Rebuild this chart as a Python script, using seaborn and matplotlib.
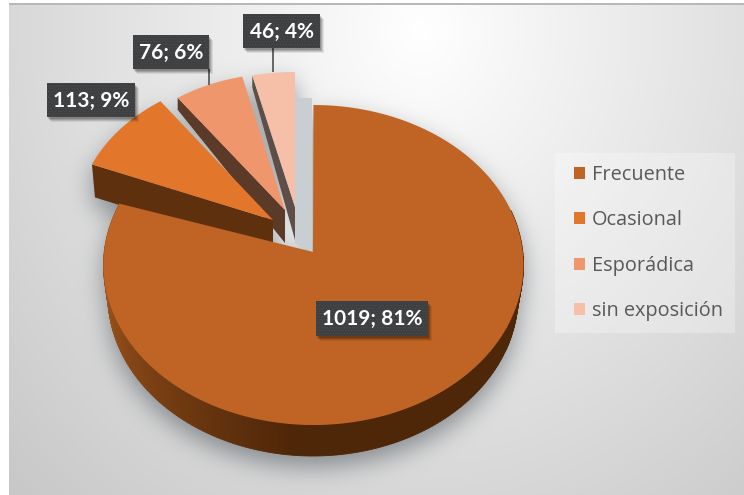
import numpy as np
import matplotlib
matplotlib.use("Agg")
import matplotlib.pyplot as plt
from matplotlib.colors import to_rgb
from matplotlib.patches import Polygon, Rectangle, Patch
from matplotlib.path import Path
import seaborn as sns

categories = ["Frecuente", "Ocasional", "Esporádica", "sin exposición"]
counts = [1019, 113, 76, 46]
top_colors = ["#BF6424", "#E2762B", "#F0966C", "#F5BFA8"]
face_colors = ["#4E2608", "#5F300E", "#5C3A28", "#5D4E48"]
label_boxes = [(316, 301, 112, 35), (47, 83, 88, 34), (133, 35, 76, 34), (243, 14, 77, 34)]

# Per-slice layout: pivot point of the wedge and radii of its top surface
slice_layout = [
    dict(apex=(313, 252), centre=(313.5, 265), rx=210, ry=160),
    dict(apex=(273, 220), centre=(273, 220), rx=196, ry=145),
    dict(apex=(285, 210), centre=(285, 210), rx=187, ry=137),
    dict(apex=(295, 207), centre=(295, 207), rx=187, ry=135),
]

sns.set_theme(style="white")
palette = sns.color_palette(top_colors)
W, H = 744, 495
fig = plt.figure(figsize=(W / 100, H / 100), dpi=100, facecolor="white")
ax = fig.add_axes([0, 0, 1, 1])

total = sum(counts)
edges = np.concatenate([[0], np.cumsum(counts)]) / total * 360


def arc(layout, a0, a1, n=120):
    th = np.radians(np.linspace(a0, a1, n))
    cx, cy = layout["centre"]
    return np.column_stack([cx + layout["rx"] * np.sin(th), cy - layout["ry"] * np.cos(th)])


def depth(y):
    return np.clip(12 + (y - 98) * 0.323, 12, 33)


def wedge(i):
    layout = slice_layout[i]
    return np.vstack([[layout["apex"]], arc(layout, edges[i], edges[i + 1])])


# Bottom outline of the large slice, slightly narrower because of the perspective
bottom = dict(centre=(313, 296), rx=205, ry=160)

# Page background with its soft radial sheen
yy, xx = np.mgrid[0:H, 0:W]
sheen = np.sqrt(((xx - 420) / 420) ** 2 + ((yy - 30) / 470) ** 2)
page = np.clip(255 - 40 * sheen, 0, 255) / 255

# Drop shadow of the whole pie, blurred from a raster mask and laid into the page
grid = np.column_stack([xx.ravel() + 0.5, yy.ravel() + 0.5])
mask = np.zeros(H * W)
outlines = [wedge(i) for i in range(4)]
outlines.append(np.vstack([arc(slice_layout[0], 80, 292), arc(bottom, 292, 80)]))
outlines.append(np.array([[92, 164], [273, 220], [273, 240], [95, 198]]))
for outline in outlines:
    mask = np.maximum(mask, Path(outline).contains_points(grid).astype(float))
mask = mask.reshape(H, W)
kernel = np.exp(-0.5 * (np.arange(-36, 37) / 12.0) ** 2)
kernel /= kernel.sum()
blur = np.apply_along_axis(lambda r: np.convolve(r, kernel, mode="same"), 0, mask)
blur = np.apply_along_axis(lambda r: np.convolve(r, kernel, mode="same"), 1, blur)
blur = np.roll(blur, 11, axis=0)
alpha = np.clip(blur * 0.66, 0, 1)[..., None]
rgb = page[..., None] * (1 - alpha) + np.array(to_rgb("#5f666c")) * alpha
rgb[:, :9] = 1.0
rgb[:3] = 1.0
rgb[3:5, 9:] = to_rgb("#b8b8b8")
ax.imshow(rgb, extent=(0, W, H, 0), zorder=0, aspect="auto", interpolation="nearest")
ax.set_xlim(0, W)
ax.set_ylim(H, 0)
ax.axis("off")

# Grey recess left behind by the pulled-out slices
ax.add_patch(Polygon([(295, 98), (312, 98), (312, 252), (295, 243)], color="#C8CED2", lw=0, zorder=3))

# Pulled-out slices, back to front: cut face first, then the top surface
z = 4
for i in (3, 2, 1):
    top = wedge(i)
    outer = top[1]
    apex = top[0]
    dx = 3 if i == 1 else 0
    face = [outer, apex, (apex[0], apex[1] + depth(apex[1])), (outer[0] + dx, outer[1] + depth(outer[1]))]
    ax.add_patch(Polygon(face, color=face_colors[i], lw=0, zorder=z))
    ax.add_patch(Polygon(top, color=palette[i], lw=0, zorder=z + 1))
    z += 2

# Rim of the large slice, shaded strip by strip
rim_top = arc(slice_layout[0], 70, edges[1], 240)
rim_bot = arc(bottom, 70, edges[1], 240)
angles = np.linspace(70, edges[1], 240)
dark = np.array(to_rgb(face_colors[0]))
light = np.array(to_rgb("#A0561C"))
for k in range(len(angles) - 1):
    t = np.clip((angles[k] - 185) / 85, 0, 1)
    col = dark + (light - dark) * t
    quad = [rim_top[k], rim_top[k + 1], rim_bot[k + 1], rim_bot[k]]
    ax.add_patch(Polygon(quad, facecolor=col, edgecolor=col, lw=0.6, zorder=z))
z += 1
ax.add_patch(Polygon(wedge(0), color=palette[0], lw=0, zorder=z))
z += 1

# Leader lines from the outer slices to their labels
for (x, y0, y1) in [(209, 69, 85), (273, 48, 72)]:
    ax.plot([x, x], [y0, y1], color="#666666", lw=1.4, zorder=z, solid_capstyle="butt")

# Data labels: value and share on dark textured boxes
matplotlib.rcParams["hatch.linewidth"] = 0.4
for v, (x, y, w, h) in zip(counts, label_boxes):
    for off, a in [(5, 0.08), (4, 0.1), (3, 0.14), (2, 0.16)]:
        ax.add_patch(Rectangle((x + off - 1, y + off), w, h, color="black", alpha=a, lw=0, zorder=z))
    ax.add_patch(Rectangle((x, y), w, h, facecolor="#3E3F40", edgecolor="#4E5052", hatch="......",
                           lw=0, zorder=z + 1))
    ax.text(x + w / 2, y + h / 2 + 0.5, f"{v}; {round(100 * v / total)}%", color="white",
            family="Lato", weight="bold", fontsize=15, ha="center", va="center", zorder=z + 2)

# Legend on a faint translucent panel
ax.add_patch(Rectangle((555, 153), 180, 180, color="white", alpha=0.28, lw=0, zorder=z))
handles = [Patch(facecolor=c, edgecolor="none") for c in palette]
leg = ax.legend(handles, categories, loc="upper left", bbox_to_anchor=(574 / W, 1 - 165 / H),
                bbox_transform=ax.transAxes, frameon=False, borderaxespad=0, borderpad=0,
                handlelength=0.55, handleheight=0.55, handletextpad=0.35, labelspacing=1.28,
                prop={"family": "Open Sans", "size": 14.3}, labelcolor="#595959")
leg.set_zorder(z + 1)

fig.savefig("out.png", dpi=100)
